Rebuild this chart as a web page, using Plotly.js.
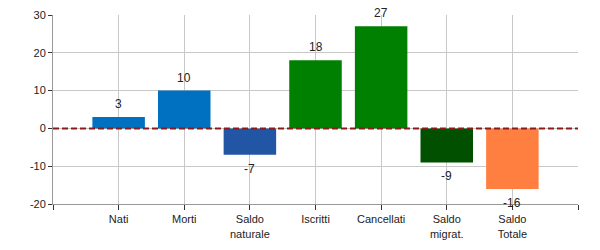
<!DOCTYPE html>
<html>
<head>
<meta charset="utf-8">
<script src="https://cdn.plot.ly/plotly-3.0.1.min.js"></script>
<style>html,body{margin:0;padding:0;background:#fff;}#chart{width:600px;height:250px;}</style>
</head>
<body>
<div id="chart"></div>
<script>
const categories = ['Nati', 'Morti', 'Saldo naturale', 'Iscritti', 'Cancellati', 'Saldo migrat.', 'Saldo Totale'];
const tickLabels = ['Nati', 'Morti', 'Saldo<br>naturale', 'Iscritti', 'Cancellati', 'Saldo<br>migrat.', 'Saldo<br>Totale'];
const values = [3, 10, -7, 18, 27, -9, -16];
const barColors = ['#0070C0', '#0070C0', '#2255A4', '#008000', '#008000', '#005000', '#FF7F40'];
const yTicks = [-20, -10, 0, 10, 20, 30];

const xPos = categories.map((_, i) => i);
const font = {family: '"Liberation Sans", Arial, sans-serif', size: 11, color: '#222'};

const trace = {
  type: 'bar',
  x: xPos,
  y: values,
  width: 0.8,
  marker: {color: barColors, line: {width: 0}},
  hoverinfo: 'skip'
};

const annotations = values.map((v, i) => ({
  x: xPos[i], y: v, xref: 'x', yref: 'y',
  text: String(v), showarrow: false,
  yshift: v >= 0 ? 13 : -14,
  font: {family: font.family, size: 12, color: '#222'}
}));

const layout = {
  width: 600, height: 250,
  margin: {l: 53, r: 22, t: 15, b: 46},
  paper_bgcolor: '#fff', plot_bgcolor: '#fff',
  showlegend: false,
  font: font,
  xaxis: {
    range: [-1, 7],
    tickmode: 'array',
    tickvals: [-1].concat(xPos, [7]),
    ticktext: [''].concat(tickLabels, ['']),
    showgrid: true, gridcolor: '#c8c8c8', gridwidth: 1,
    zeroline: false,
    showline: true, linecolor: '#999', linewidth: 1,
    ticks: 'outside', ticklen: 5, tickcolor: '#333',
    tickfont: font,
    automargin: false,
    fixedrange: true
  },
  yaxis: {
    range: [-20, 30],
    tickmode: 'array',
    tickvals: yTicks,
    ticktext: yTicks.map(String),
    showgrid: true, gridcolor: '#c8c8c8', gridwidth: 1,
    zeroline: false,
    showline: true, linecolor: '#999', linewidth: 1,
    ticks: 'outside', ticklen: 4, tickcolor: '#333',
    tickfont: font,
    automargin: false,
    fixedrange: true
  },
  shapes: [{
    type: 'line', xref: 'paper', yref: 'y',
    x0: 0, x1: 1, y0: 0, y1: 0,
    line: {color: '#8B1A1A', width: 2, dash: '6px,3px'}
  }],
  annotations: annotations
};

Plotly.newPlot('chart', [trace], layout, {displayModeBar: false, staticPlot: true});
</script>
</body>
</html>
